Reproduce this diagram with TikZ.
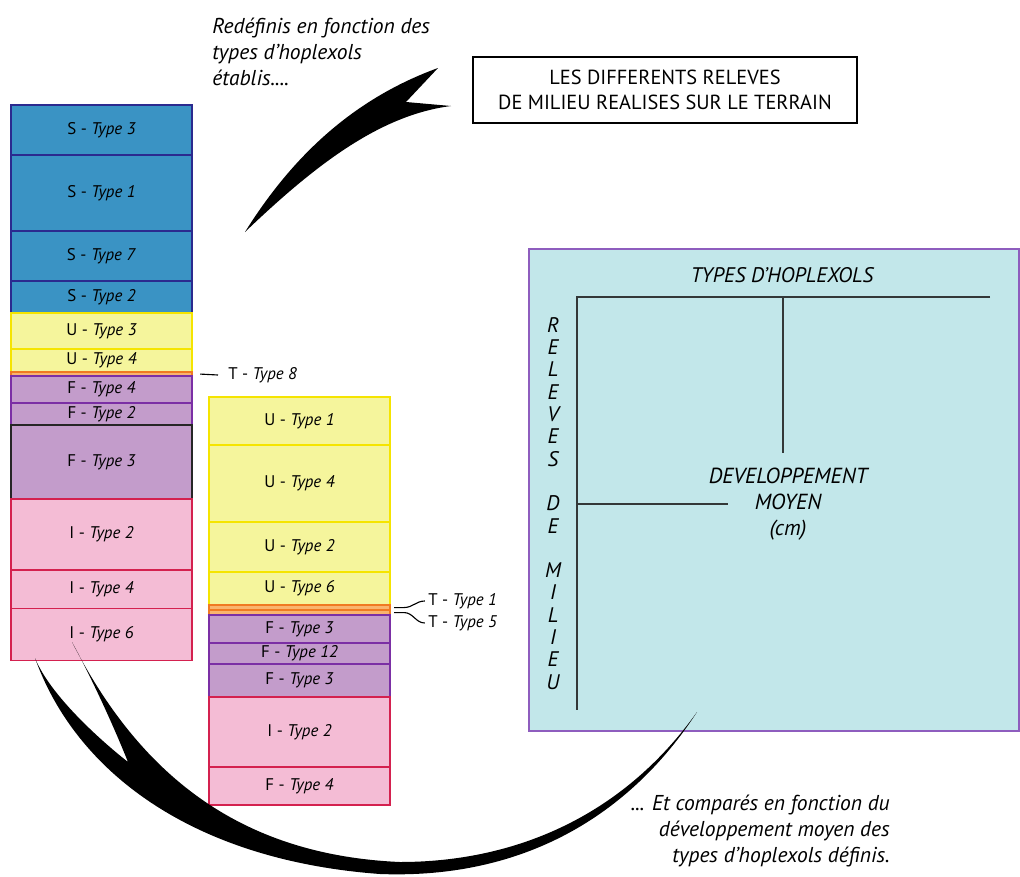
\documentclass[tikz,border=0pt]{standalone}
\usepackage{fontspec}
\setmainfont{PT Sans}
\usetikzlibrary{positioning}

\definecolor{bleuS}{HTML}{3A93C4}
\definecolor{bleuSbord}{HTML}{2B2A8F}
\definecolor{jauneU}{HTML}{F5F59C}
\definecolor{jauneUbord}{HTML}{F5E400}
\definecolor{violetF}{HTML}{C39CCB}
\definecolor{violetFbord}{HTML}{7B2FA5}
\definecolor{roseI}{HTML}{F4BCD5}
\definecolor{roseIbord}{HTML}{D4214F}
\definecolor{orangeT}{HTML}{F9B46E}
\definecolor{orangeTbord}{HTML}{F07A22}
\definecolor{fondpanneau}{HTML}{C2E7EA}
\definecolor{bordpanneau}{HTML}{8E5DBE}
\definecolor{gris}{HTML}{333838}

\begin{document}
\begin{tikzpicture}[
  x=0.025cm, y=-0.025cm,
  every node/.style={font=\fontsize{12}{14}\selectfont},
  couche/.style={
    rectangle, line width=0.9pt, minimum width=4.525cm,
    minimum height=#1, inner sep=0pt, outer sep=0pt
  },
  solS/.style={couche=#1, fill=bleuS, draw=bleuSbord},
  solU/.style={couche=#1, fill=jauneU, draw=jauneUbord},
  solF/.style={couche=#1, fill=violetF, draw=violetFbord},
  solI/.style={couche=#1, fill=roseI, draw=roseIbord},
  solT/.style={couche=#1, fill=orangeT, draw=orangeTbord},
  etiq/.style={inner sep=0pt, anchor=west},
  lien/.style={line width=0.8pt},
  axe/.style={line width=1.6pt, draw=gris},
  lettre/.style={font=\fontsize{15}{18}\selectfont\itshape},
  comment/.style={font=\fontsize{15.3}{18.4}\selectfont\itshape, inner sep=0pt},
]

\fill[white] (0,0) rectangle (1020,876);
\useasboundingbox (0,0) rectangle (1020,876);

%% Colonne 1
\node[solS=1.25cm, anchor=north west] (s3) at (11,105) {S - \textit{Type 3}};
\node[solS=1.9cm,  below=0pt of s3] (s1) {S - \textit{Type 1}};
\node[solS=1.25cm, below=0pt of s1] (s7) {S - \textit{Type 7}};
\node[solS=0.8cm,  below=0pt of s7] (s2) {S - \textit{Type 2}};
\node[solU=0.9cm,  below=0pt of s2] (u3) {U - \textit{Type 3}};
\node[solU=0.575cm, below=0pt of u3] (u4) {U - \textit{Type 4}};
\node[solT=0.1cm,  below=0pt of u4] (t8) {};
\node[solF=0.675cm, below=0pt of t8] (f4) {F - \textit{Type 4}};
\node[solF=0.55cm, below=0pt of f4] (f2) {F - \textit{Type 2}};
\node[solF=1.85cm, draw=black!85, below=0pt of f2] (f3) {F - \textit{Type 3}};
\node[solI=1.775cm, below=0pt of f3] (i2) {I - \textit{Type 2}};
\node[solI=0.95cm, below=0pt of i2] (i4) {I - \textit{Type 4}};
\node[solI=1.3cm,  below=0pt of i4] (i6) {I - \textit{Type 6}};

%% Colonne 2
\node[solU=1.2cm, anchor=north west] (u1b) at (209,397) {U - \textit{Type 1}};
\node[solU=1.925cm, below=0pt of u1b] (u4b) {U - \textit{Type 4}};
\node[solU=1.25cm, below=0pt of u4b] (u2b) {U - \textit{Type 2}};
\node[solU=0.825cm, below=0pt of u2b] (u6b) {U - \textit{Type 6}};
\node[solT=0.125cm, below=0pt of u6b] (t1b) {};
\node[solT=0.125cm, below=0pt of t1b] (t5b) {};
\node[solF=0.7cm, below=0pt of t5b] (f3b) {F - \textit{Type 3}};
\node[solF=0.525cm, below=0pt of f3b] (f12b) {F - \textit{Type 12}};
\node[solF=0.825cm, below=0pt of f12b] (f3c) {F - \textit{Type 3}};
\node[solI=1.75cm, below=0pt of f3c] (i2b) {I - \textit{Type 2}};
\node[solI=0.95cm, below=0pt of i2b] (f4b) {F - \textit{Type 4}};

%% Horizons T
\node[etiq] (lt8) at (228,375) {T - \textit{Type 8}};
\node[etiq] (lt1) at (428,601) {T - \textit{Type 1}};
\node[etiq] (lt5) at (428,623) {T - \textit{Type 5}};
\draw[lien] ([xshift=0.2cm]t8.east) -- ([xshift=-0.25cm]lt8.west);
\draw[lien] ([xshift=0.1cm]t1b.east) -- ++(10,0)
  to[out=0, in=180] ([xshift=-0.08cm]lt1.west);
\draw[lien] ([xshift=0.1cm]t5b.east) -- ++(10,0)
  to[out=0, in=180] ([xshift=-0.08cm]lt5.west);

%% Releves de milieu
\node[draw=black, line width=1.3pt, minimum width=9.6cm, minimum height=1.65cm,
  align=center, font=\fontsize{14.5}{17.7}\selectfont] (releves) at (665,90)
  {LES DIFFERENTS RELEVES\\DE MILIEU REALISES SUR LE TERRAIN};

%% Tableau
\node[draw=bordpanneau, fill=fondpanneau, line width=1.4pt, anchor=north west,
  minimum width=12.25cm, minimum height=12.05cm] (panneau) at (528,248) {};
\node[lettre] (typesH) at (782,275) {TYPES D'HOPLEXOLS};
\node[lettre, align=center, font=\fontsize{15.5}{18.4}\selectfont\itshape] (devmoy)
  at (788,504) {DEVELOPPEMENT\\MOYEN\\(cm)};
\foreach \l [count=\i from 0] in {R,E,L,E,V,E,S,{},D,E,{},M,I,L,I,E,U}
  \node[lettre] (lettre\i) at (553,325+22.3*\i) {\l};
\coordinate (coin) at (577,297);
\coordinate (finH) at (990,297);
\coordinate (finV) at (577,710);
\draw[axe] (finH) -- (coin) -- (finV);
\draw[axe] (783,297) -- (783,453);
\draw[axe] (577,504) -- (728,504);

%% Textes
\node[comment, anchor=north west, align=left] (redef) at (212,18)
  {Red\'efinis en fonction des\\types d'hoplexols\\\'etablis....};
\node[comment, anchor=north east, align=right] (compar) at (890,795)
  {... Et compar\'es en fonction du\\d\'eveloppement moyen des\\types d'hoplexols d\'efinis.};

%% Fleches
\fill[black] (245,232) .. controls (290,160) and (350,100) .. (438,68)
  -- (406,102) -- (451,106) .. controls (380,115) and (315,165) .. (245,232) -- cycle;
\fill[black] (35,658) .. controls (75,770) and (190,860) .. (380,874)
  .. controls (540,880) and (640,800) .. (697,712)
  .. controls (620,820) and (510,862) .. (400,862)
  .. controls (240,855) and (140,775) .. (72,642)
  .. controls (90,675) and (112,722) .. (128,762)
  .. controls (100,740) and (50,695) .. (35,658) -- cycle;

\end{tikzpicture}
\end{document}
